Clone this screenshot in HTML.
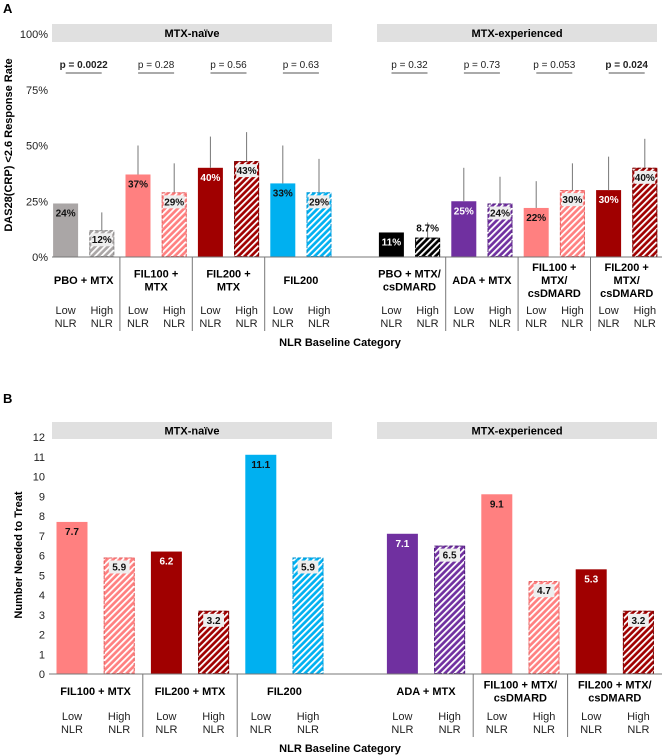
<!DOCTYPE html>
<html><head><meta charset="utf-8">
<style>
html,body{margin:0;padding:0;background:#fff;}
svg{display:block;font-family:"Liberation Sans",Arial,sans-serif;}
</style></head>
<body>
<svg id="fig" width="664" height="756" viewBox="0 0 664 756" xmlns="http://www.w3.org/2000/svg">
<defs>
<pattern id="hatch" patternUnits="userSpaceOnUse" width="4.5" height="4.5" patternTransform="rotate(45)">
<rect width="1.8" height="4.5" fill="#fff"/>
</pattern>
</defs>
<text x="3" y="13" font-size="13" font-weight="bold">A</text>
<text x="3" y="403" font-size="13" font-weight="bold">B</text>
<g id="chartA"></g>
<g id="chartB"></g>
</svg>
<script>
// ---- Chart A data ----
const catsA = ["PBO + MTX","FIL100 + MTX","FIL200 + MTX","FIL200","PBO + MTX/ csDMARD","ADA + MTX","FIL100 + MTX/ csDMARD","FIL200 + MTX/ csDMARD"];
const lowA = [24,37,40,33,11,25,22,30];
const highA = [12,29,43,29,8.7,24,30,40];
const lowErrA = [null,50,54,50,null,40,34,45];
const highErrA = [20,42,56,44,15.5,36,42,53];
const labelsLowA = ["24%","37%","40%","33%","11%","25%","22%","30%"];
const labelsHighA = ["12%","29%","43%","29%","8.7%","24%","30%","40%"];
const pValsA = ["p = 0.0022","p = 0.28","p = 0.56","p = 0.63","p = 0.32","p = 0.73","p = 0.053","p = 0.024"];
const pBoldA = [true,false,false,false,false,false,false,true];
const yTicksA = [0,25,50,75,100];
// ---- Chart B data ----
const catsB = ["FIL100 + MTX","FIL200 + MTX","FIL200","ADA + MTX","FIL100 + MTX/ csDMARD","FIL200 + MTX/ csDMARD"];
const lowB = [7.7,6.2,11.1,7.1,9.1,5.3];
const highB = [5.9,3.2,5.9,6.5,4.7,3.2];
const yTicksB = [0,1,2,3,4,5,6,7,8,9,10,11,12];

const colors = ["#aaa6a6","#ff8080","#a00000","#00b0f0","#000000","#7030a0","#ff8080","#a00000"];
const dark = ["#888","#e06060","#700000","#0090d0","#000","#50207a","#e06060","#700000"];
const lowTextWhite = [false,false,true,false,true,true,false,true];
const colorsB = ["#ff8080","#a00000","#00b0f0","#7030a0","#ff8080","#a00000"];
const darkB = ["#e06060","#700000","#0090d0","#50207a","#e06060","#700000"];
const lowTextWhiteB = [false,true,false,true,false,true];

const NS="http://www.w3.org/2000/svg";
function mk(parent,tag,attrs,text){const e=document.createElementNS(NS,tag);for(const k in attrs)e.setAttribute(k,attrs[k]);if(text!==undefined)e.textContent=text;parent.appendChild(e);return e;}

function drawChart(g,opt){
  const {cats,low,high,lowErr,highErr,lowLab,highLab,ticks,y0,yTop,vmax,axisX,slot0,slotW,barW,gapIdx,cols,darks,whiteLow,tickFmt,titleY,title,titleX,groupY,lowY,sepBottom,catY,hdrY,hdrH,pv,pb} = opt;
  const ys = v => y0 - (v/vmax)*(y0-yTop);
  const slotIdx = (gi,k) => { let i = gi*2+k; if (i>=gapIdx) i+=1; return i; };
  const xc = i => slot0 + i*slotW;
  const hdrs=[["MTX-naïve",52,332],["MTX-experienced",377,657]];
  hdrs.forEach(h=>{
    const r=mk(g,"rect",{x:h[1],y:hdrY,width:h[2]-h[1],height:hdrH,fill:"#e0e0e0"});
    
    
    const t=mk(g,"text",{x:(h[1]+h[2])/2,y:hdrY+hdrH/2+4,"font-size":11,"font-weight":"bold","text-anchor":"middle"},h[0]);
    
    
  });
  ticks.forEach(v=>{
    const t=mk(g,"text",{x:axisX-4,y:ys(v)+4,"font-size":11,"text-anchor":"end",fill:"#222"},tickFmt(v));
    
    
  });
  const yt=mk(g,"text",{x:titleX,y:titleY,"font-size":11,"font-weight":"bold","text-anchor":"middle",transform:`rotate(-90 ${titleX} ${titleY})`},title);
  
  
  cats.forEach((c,gi)=>{
    [0,1].forEach(k=>{
      const v = k===0?low[gi]:high[gi];
      const x = xc(slotIdx(gi,k)) - barW/2;
      const top = ys(v);
      const b=mk(g,"rect",{x:x,y:top,width:barW,height:y0-top,fill:cols[gi]});
      
      
      if(k===1){
        mk(g,"rect",{x:x,y:top,width:barW,height:y0-top,fill:"url(#hatch)"});
        mk(g,"rect",{x:x+0.5,y:top+0.5,width:barW-1,height:y0-top-1,fill:"none",stroke:darks[gi],"stroke-width":1,"stroke-dasharray":"3,2"});
      }
      const err = k===0?(lowErr?lowErr[gi]:null):(highErr?highErr[gi]:null);
      if(err!==null && err!==undefined){
        const e=mk(g,"line",{x1:x+barW/2,x2:x+barW/2,y1:ys(err),y2:top,stroke:"#777","stroke-width":1});
        
        
      }
      const lab = k===0?lowLab[gi]:highLab[gi];
      const tiny = (y0-top)<20;
      const ly = tiny ? top-6 : top+13;
      if(k===1 && !tiny){
        const w = lab.length*5.6+4;
        mk(g,"rect",{x:x+barW/2-w/2,y:ly-10,width:w,height:13,fill:"#eeeeee"});
      }
      const fill = (k===0 && whiteLow[gi])?"#fff":"#111";
      const t=mk(g,"text",{x:x+barW/2,y:ly,"font-size":10,"font-weight":"bold","text-anchor":"middle",fill:fill},lab);
      
      
      const l1=mk(g,"text",{x:x+barW/2,y:lowY,"font-size":11,"text-anchor":"middle",fill:"#222"},k===0?"Low":"High");
      
      
      mk(g,"text",{x:x+barW/2,y:lowY+13,"font-size":11,"text-anchor":"middle",fill:"#222"},"NLR");
    });
    const gc = (xc(slotIdx(gi,0))+xc(slotIdx(gi,1)))/2;
    const lines = opt.groupLines[gi];
    const startY = groupY - (lines.length-1)*6.5;
    lines.forEach((ln,li)=>{
      const t=mk(g,"text",{x:gc,y:startY+li*13,"font-size":11,"font-weight":"bold","text-anchor":"middle"},ln);
      
      
    });
    if(gi!==cats.length-1 && slotIdx(gi+1,0)-slotIdx(gi,1)===1){
      const sx = xc(slotIdx(gi,1))+slotW/2;
      mk(g,"line",{x1:sx,x2:sx,y1:y0,y2:sepBottom,stroke:"#777","stroke-width":1});
    }
    if(pv){
      const pt=mk(g,"text",{x:gc,y:opt.pY,"font-size":10,"font-weight":pb[gi]?"bold":"normal","text-anchor":"middle",fill:"#222"},pv[gi]);
      
      
      mk(g,"line",{x1:gc-18,x2:gc+18,y1:opt.pY+5,y2:opt.pY+5,stroke:"#555","stroke-width":1});
    }
  });
  const xa=mk(g,"line",{x1:axisX,x2:662,y1:y0,y2:y0,stroke:"#777","stroke-width":1});
  
  
  const xt=mk(g,"text",{x:340,y:catY,"font-size":11,"font-weight":"bold","text-anchor":"middle"},"NLR Baseline Category");
  
  
}

drawChart(document.getElementById("chartA"),{
  cats:catsA,low:lowA,high:highA,lowErr:lowErrA,highErr:highErrA,lowLab:labelsLowA,highLab:labelsHighA,
  ticks:yTicksA,y0:257,yTop:34,vmax:100,axisX:52,slot0:65.6,slotW:36.2,barW:25,gapIdx:8,
  cols:colors,darks:dark,whiteLow:lowTextWhite,tickFmt:v=>v+"%",
  titleX:12,titleY:145,title:"DAS28(CRP) <2.6 Response Rate",
  groupLines:[["PBO + MTX"],["FIL100 +","MTX"],["FIL200 +","MTX"],["FIL200"],["PBO + MTX/","csDMARD"],["ADA + MTX"],["FIL100 +","MTX/","csDMARD"],["FIL200 +","MTX/","csDMARD"]],
  groupY:284,lowY:314,sepBottom:331,catY:346,hdrY:24,hdrH:18,pv:pValsA,pb:pBoldA,pY:68
});
drawChart(document.getElementById("chartB"),{
  cats:catsB,low:lowB,high:highB,lowErr:null,highErr:null,lowLab:lowB.map(String),highLab:highB.map(String),
  ticks:yTicksB,y0:674,yTop:437,vmax:12,axisX:49,slot0:72,slotW:47.2,barW:31,gapIdx:6,
  cols:colorsB,darks:darkB,whiteLow:lowTextWhiteB,tickFmt:v=>String(v),
  titleX:22,titleY:555,title:"Number Needed to Treat",
  groupLines:[["FIL100 + MTX"],["FIL200 + MTX"],["FIL200"],["ADA + MTX"],["FIL100 + MTX/","csDMARD"],["FIL200 + MTX/","csDMARD"]],
  groupY:695,lowY:720,sepBottom:737,catY:752,hdrY:422,hdrH:17,pv:null,pb:null,pY:0
});
</script>
</body></html>
